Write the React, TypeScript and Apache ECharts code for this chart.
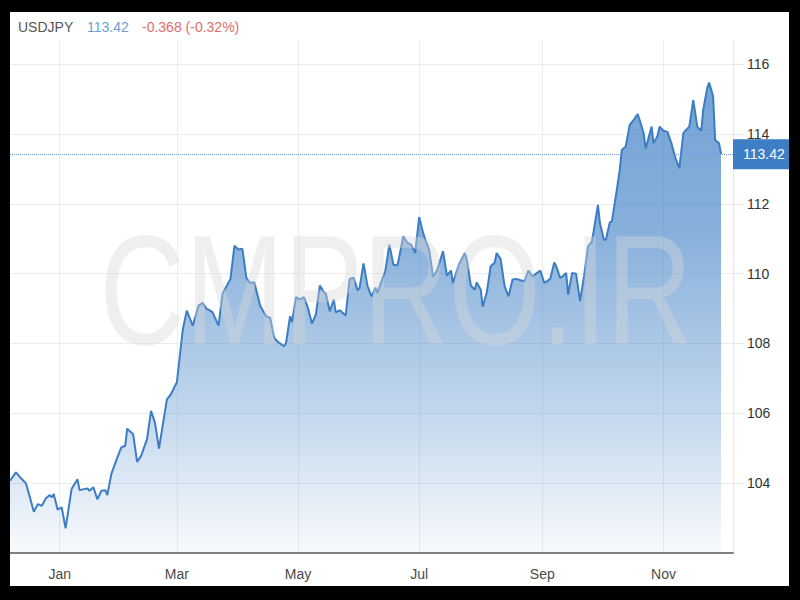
import React, { useEffect, useRef } from "react";
import * as echarts from "echarts";

const SYMBOL = "USDJPY";
const LAST_PRICE = 113.42;
const CHANGE_TEXT = "-0.368 (-0.32%)";
const WATERMARK = "CMPRO.IR";

const AXIS_START = "2020-12-07";
const AXIS_DAYS = 365;
const MONTH_NAMES = ["Jan", "Feb", "Mar", "Apr", "May", "Jun", "Jul", "Aug", "Sep", "Oct", "Nov", "Dec"];
const LABEL_MONTHS = [1, 3, 5, 7, 9, 11];

const dates = [
  "2020-12-07", "2020-12-10", "2020-12-13", "2020-12-15", "2020-12-17", "2020-12-19", "2020-12-21", "2020-12-23",
  "2020-12-25", "2020-12-27", "2020-12-28", "2020-12-29", "2020-12-31", "2021-01-02", "2021-01-04", "2021-01-07",
  "2021-01-10", "2021-01-11", "2021-01-15", "2021-01-16", "2021-01-18", "2021-01-20", "2021-01-22", "2021-01-24",
  "2021-01-25", "2021-01-27", "2021-01-30", "2021-02-01", "2021-02-03", "2021-02-04", "2021-02-07", "2021-02-09",
  "2021-02-11", "2021-02-14", "2021-02-16", "2021-02-18", "2021-02-20", "2021-02-24", "2021-02-26", "2021-02-28",
  "2021-03-01", "2021-03-03", "2021-03-04", "2021-03-06", "2021-03-09", "2021-03-12", "2021-03-14", "2021-03-16",
  "2021-03-17", "2021-03-19", "2021-03-22", "2021-03-24", "2021-03-28", "2021-03-30", "2021-04-01", "2021-04-03",
  "2021-04-05", "2021-04-07", "2021-04-09", "2021-04-12", "2021-04-15", "2021-04-17", "2021-04-19", "2021-04-21",
  "2021-04-24", "2021-04-25", "2021-04-27", "2021-04-28", "2021-04-30", "2021-05-02", "2021-05-04", "2021-05-06",
  "2021-05-08", "2021-05-10", "2021-05-12", "2021-05-14", "2021-05-15", "2021-05-17", "2021-05-19", "2021-05-20",
  "2021-05-22", "2021-05-25", "2021-05-27", "2021-05-29", "2021-05-31", "2021-06-01", "2021-06-03", "2021-06-05",
  "2021-06-07", "2021-06-09", "2021-06-10", "2021-06-12", "2021-06-14", "2021-06-16", "2021-06-18", "2021-06-20",
  "2021-06-21", "2021-06-23", "2021-06-25", "2021-06-27", "2021-06-29", "2021-07-01", "2021-07-03", "2021-07-04",
  "2021-07-06", "2021-07-08", "2021-07-10", "2021-07-13", "2021-07-15", "2021-07-17", "2021-07-18", "2021-07-21",
  "2021-07-24", "2021-07-25", "2021-07-27", "2021-07-29", "2021-07-30", "2021-08-01", "2021-08-02", "2021-08-04",
  "2021-08-06", "2021-08-08", "2021-08-09", "2021-08-11", "2021-08-13", "2021-08-15", "2021-08-17", "2021-08-19",
  "2021-08-21", "2021-08-23", "2021-08-25", "2021-08-27", "2021-08-31", "2021-09-02", "2021-09-05", "2021-09-07",
  "2021-09-08", "2021-09-10", "2021-09-11", "2021-09-13", "2021-09-14", "2021-09-16", "2021-09-18", "2021-09-20",
  "2021-09-22", "2021-09-24", "2021-09-26", "2021-09-29", "2021-09-30", "2021-10-02", "2021-10-03", "2021-10-05",
  "2021-10-06", "2021-10-08", "2021-10-10", "2021-10-11", "2021-10-12", "2021-10-13", "2021-10-15", "2021-10-17",
  "2021-10-19", "2021-10-20", "2021-10-22", "2021-10-23", "2021-10-24", "2021-10-26", "2021-10-27", "2021-10-29",
  "2021-10-30", "2021-11-01", "2021-11-03", "2021-11-05", "2021-11-07", "2021-11-09", "2021-11-11", "2021-11-12",
  "2021-11-14", "2021-11-16", "2021-11-18", "2021-11-20", "2021-11-21", "2021-11-23", "2021-11-24", "2021-11-26",
  "2021-11-27", "2021-11-29", "2021-11-30",
];

const prices = [
  104.07, 104.31, 104.11, 104.0, 103.6, 103.18, 103.4, 103.35,
  103.56, 103.66, 103.59, 103.69, 103.24, 103.31, 102.71, 103.83,
  104.11, 103.8, 103.85, 103.78, 103.88, 103.54, 103.78, 103.8,
  103.66, 104.26, 104.73, 105.02, 105.07, 105.56, 105.4, 104.61,
  104.78, 105.26, 106.07, 105.73, 104.99, 106.4, 106.54, 106.78,
  106.88, 107.9, 108.4, 108.94, 108.51, 109.09, 109.16, 108.99,
  108.97, 108.89, 108.51, 109.43, 109.85, 110.8, 110.69, 110.71,
  109.88, 109.73, 109.75, 109.07, 108.78, 108.73, 108.16, 108.04,
  107.92, 108.02, 108.78, 108.61, 109.33, 109.26, 109.33, 109.02,
  108.57, 108.83, 109.66, 109.47, 109.43, 108.92, 109.26, 108.89,
  108.95, 108.8, 109.85, 109.88, 109.52, 109.59, 110.29, 109.64,
  109.35, 109.6, 109.45, 109.78, 110.09, 110.83, 110.26, 110.23,
  110.49, 111.07, 110.89, 110.83, 110.59, 111.62, 111.16, 110.99,
  110.69, 109.91, 110.09, 110.64, 109.94, 110.09, 109.73, 110.26,
  110.59, 110.4, 109.66, 109.54, 109.75, 109.54, 109.05, 109.45,
  110.21, 110.31, 110.59, 110.42, 109.64, 109.35, 109.83, 109.85,
  109.81, 109.78, 110.09, 109.92, 110.09, 109.73, 109.85, 110.32,
  110.21, 109.88, 109.91, 110.02, 109.4, 110.02, 110.0, 109.21,
  109.92, 110.78, 110.92, 111.97, 111.45, 110.97, 110.97, 111.47,
  111.49, 112.21, 112.97, 113.54, 113.59, 113.64, 114.26, 114.4,
  114.57, 114.4, 114.02, 113.59, 113.78, 114.21, 113.73, 113.94,
  114.21, 114.09, 114.06, 113.73, 113.31, 113.02, 114.02, 114.09,
  114.21, 114.97, 114.21, 114.09, 114.69, 115.31, 115.47, 115.07,
  113.83, 113.73, 113.42,
];

const Y_MIN = 102;
const Y_MAX = 116.69;
const Y_INTERVAL = 2;

const FONT = "'Liberation Sans', Arial, Helvetica, sans-serif";

function buildCategories(): string[] {
  const [y, m, d] = AXIS_START.split("-").map(Number);
  const start = Date.UTC(y, m - 1, d);
  const out: string[] = [];
  for (let i = 0; i < AXIS_DAYS; i++) {
    out.push(new Date(start + i * 86400000).toISOString().slice(0, 10));
  }
  return out;
}

function isLabelDay(value: string): boolean {
  const parts = value.split("-");
  return parts[2] === "01" && LABEL_MONTHS.includes(Number(parts[1]));
}

export default function App() {
  const ref = useRef<HTMLDivElement>(null);

  useEffect(() => {
    if (!ref.current) return;
    const chart = echarts.init(ref.current, undefined, { renderer: "svg" });
    const categories = buildCategories();
    const lookup: Record<string, number> = {};
    dates.forEach((d, i) => {
      lookup[d] = prices[i];
    });
    const seriesData = categories.map((c) => (c in lookup ? lookup[c] : null));

    const intervalFn = (_i: number, v: string) => isLabelDay(v);

    chart.setOption({
      animation: false,
      backgroundColor: "#ffffff",
      grid: { left: 0, right: 56, top: 28, bottom: 33, containLabel: false },
      graphic: [
        {
          type: "text",
          left: 8,
          top: 8,
          style: { text: SYMBOL, fill: "#555555", font: `14px ${FONT}` },
        },
        {
          type: "text",
          left: 77,
          top: 8,
          style: { text: LAST_PRICE.toFixed(2), fill: "#6c9fd3", font: `14px ${FONT}` },
        },
        {
          type: "text",
          left: 132,
          top: 8,
          style: { text: CHANGE_TEXT, fill: "#e26d6d", font: `14px ${FONT}` },
        },
        {
          type: "text",
          x: 386,
          y: 278,
          scaleX: 0.765,
          z: 100,
          silent: true,
          style: {
            text: WATERMARK,
            fill: "rgba(215,215,215,0.4)",
            font: `155px ${FONT}`,
            textAlign: "center",
            textVerticalAlign: "middle",
          },
        },
      ],
      xAxis: {
        type: "category",
        data: categories,
        boundaryGap: false,
        axisLine: { show: true, lineStyle: { color: "#808080", width: 2 } },
        axisTick: { show: false },
        axisLabel: {
          interval: intervalFn,
          formatter: (v: string) => MONTH_NAMES[Number(v.split("-")[1]) - 1],
          color: "#4a4a4a",
          fontSize: 14,
          fontFamily: FONT,
          margin: 14,
        },
        splitLine: {
          show: true,
          interval: intervalFn,
          lineStyle: { color: "#ededed", width: 1 },
        },
      },
      yAxis: {
        type: "value",
        position: "right",
        min: Y_MIN,
        max: Y_MAX,
        interval: Y_INTERVAL,
        axisLine: { show: true, lineStyle: { color: "#e8e8e8", width: 1 } },
        axisTick: { show: true, length: 10, lineStyle: { color: "#e6e6e6" } },
        axisLabel: {
          showMinLabel: false,
          showMaxLabel: false,
          color: "#333333",
          fontSize: 14,
          fontFamily: FONT,
          margin: 14,
        },
        splitLine: {
          show: true,
          showMaxLine: false,
          lineStyle: { color: "#ececec", width: 1 },
        },
      },
      series: [
        {
          type: "line",
          data: seriesData,
          connectNulls: true,
          symbol: "none",
          lineStyle: { color: "#3c7dc4", width: 2 },
          areaStyle: {
            color: new echarts.graphic.LinearGradient(0, 0, 0, 1, [
              { offset: 0, color: "rgba(58,125,196,1)" },
              { offset: 0.3, color: "rgba(58,125,196,0.88)" },
              { offset: 0.65, color: "rgba(58,125,196,0.5)" },
              { offset: 1, color: "rgba(58,125,196,0.05)" },
            ]),
          },
          markLine: {
            silent: true,
            symbol: ["none", "none"],
            lineStyle: { color: "#6f9ed2", type: "dotted", width: 1 },
            label: {
              position: "end",
              distance: 0,
              formatter: () => LAST_PRICE.toFixed(2),
              backgroundColor: "#3d7ec5",
              color: "#ffffff",
              fontSize: 14,
              fontFamily: FONT,
              padding: [8, 10, 8, 10],
            },
            data: [{ yAxis: LAST_PRICE }],
          },
        },
      ],
    });

    return () => chart.dispose();
  }, []);

  return (
    <div
      style={{
        position: "absolute",
        left: 0,
        top: 0,
        width: 800,
        height: 600,
        background: "#000000",
        overflow: "hidden",
      }}
    >
      <div
        ref={ref}
        style={{
          position: "absolute",
          left: 10,
          top: 12,
          width: 779,
          height: 574,
          background: "#ffffff",
        }}
      />
    </div>
  );
}
